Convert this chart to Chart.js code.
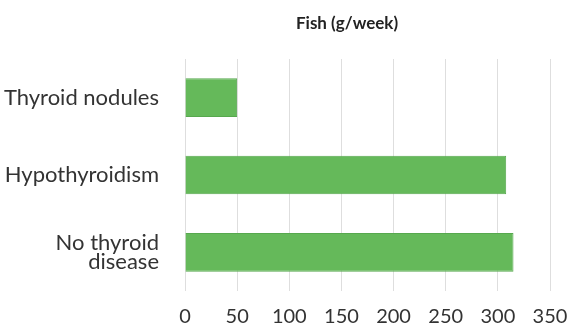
<!DOCTYPE html>
<html>
<head>
<meta charset="utf-8">
<script src="https://cdn.jsdelivr.net/npm/chart.js@4.4.0/dist/chart.umd.min.js"></script>
<style>
  html, body { margin: 0; padding: 0; background: #fff; }
  #wrap { width: 571px; height: 324px; }
</style>
</head>
<body>
<div id="wrap"><canvas id="fish-chart"></canvas></div>
<script>
const categories = ['Thyroid nodules', 'Hypothyroidism', ['No thyroid', 'disease']];
const fishValues = [50, 308, 315];
const xTicks = [0, 50, 100, 150, 200, 250, 300, 350];
const chartTitle = 'Fish (g/week)';

const canvas = document.querySelector('#fish-chart');

// title sits left of the plot centre in the original, so draw it by hand
const offsetTitle = {
    id: 'offsetTitle',
    afterDraw(chart) {
        const ctx = chart.ctx;
        ctx.save();
        ctx.font = 'bold 17px Lato';
        ctx.fillStyle = '#222';
        ctx.textAlign = 'center';
        ctx.textBaseline = 'middle';
        ctx.fillText(chartTitle, 347, 24);
        ctx.restore();
    }
};

new Chart(canvas.getContext('2d'), {
    type: 'bar',
    data: {
        labels: categories,
        datasets: [{
            label: chartTitle,
            data: fishValues,
            backgroundColor: '#65b95a',
            borderColor: '#57a84e',
            borderWidth: 1,
            categoryPercentage: 1,
            barPercentage: 0.5
        }]
    },
    options: {
        indexAxis: 'y',
        responsive: true,
        maintainAspectRatio: false,
        animation: false,
        layout: { padding: { top: 59, right: 21, bottom: 0, left: 0 } },
        plugins: {
            legend: { display: false },
            tooltip: { enabled: false },
            title: { display: false }
        },
        scales: {
            x: {
                min: 0,
                max: 350,
                afterBuildTicks: axis => { axis.ticks = xTicks.map(v => ({ value: v })) },
                afterFit: axis => {
                    // tick padding gets added to the side padding, drop it
                    axis.height = 33;
                    axis.paddingLeft = 0;
                    axis.paddingRight = 0;
                },
                grid: { color: '#dedede', drawTicks: false },
                border: { display: false },
                ticks: {
                    color: '#333',
                    padding: 14,
                    font: { family: 'Lato', size: 20 }
                }
            },
            y: {
                afterFit: axis => { axis.width = 185 },
                grid: { display: false },
                border: { display: false },
                ticks: {
                    color: '#333',
                    padding: 18,
                    font: { family: 'Lato', size: 22, lineHeight: 0.85 }
                }
            }
        }
    },
    plugins: [offsetTitle]
});
</script>
</body>
</html>
